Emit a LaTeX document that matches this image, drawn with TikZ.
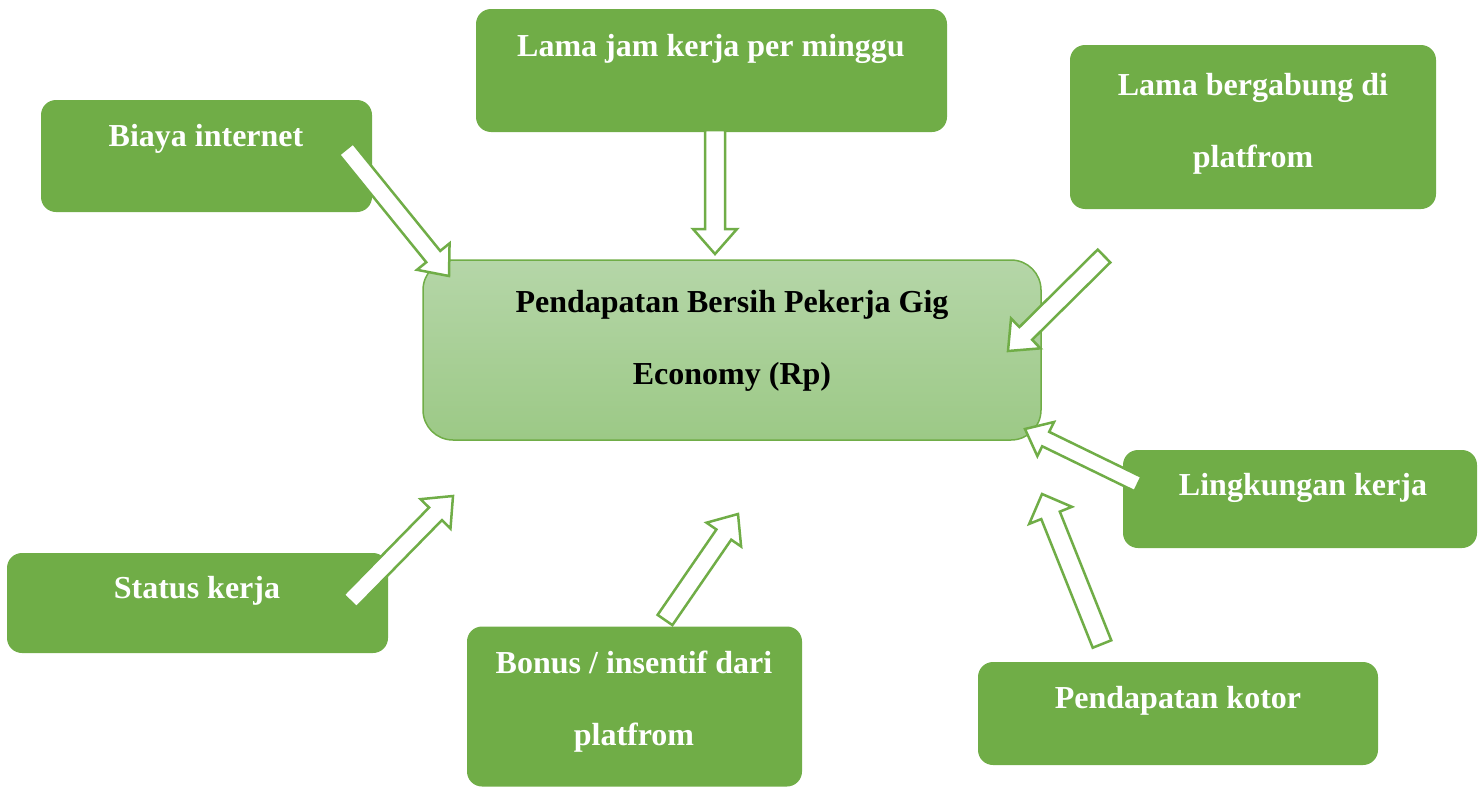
\documentclass[tikz,border=0pt]{standalone}
\usepackage{fontspec}
\setmainfont{Liberation Serif}
\usetikzlibrary{calc}
\definecolor{leaf}{HTML}{70AD47}
\definecolor{paletop}{HTML}{B5D6A8}
\definecolor{palebot}{HTML}{9CC986}

% hollow block arrow: #1 tail, #2 tip, #3 half shaft, #4 half head, #5 head length
\newcommand\blockarrow[5]{%
  \coordinate (ba-neck) at ($(#2)!#5!(#1)$);
  \draw[flowarrow] ($(#1)!#3!90:(#2)$) -- ($(ba-neck)!#3!90:(#2)$)
    -- ($(ba-neck)!#4!90:(#2)$) -- (#2) -- ($(ba-neck)!#4!-90:(#2)$)
    -- ($(ba-neck)!#3!-90:(#2)$) -- ($(#1)!#3!-90:(#2)$) -- cycle;}

\begin{document}
\begin{tikzpicture}[x=1pt,y=-1pt,
  outerbox/.style={fill=leaf, rounded corners=15pt, inner sep=0pt},
  corebox/.style={draw=leaf, line width=1.5pt, top color=paletop, bottom color=palebot,
    rounded corners=30pt, inner sep=0pt},
  flowarrow/.style={draw=leaf, line width=2.5pt, fill=white, line join=miter},
  wtext/.style={text=white, font=\fontsize{32}{72}\selectfont\bfseries, align=center, anchor=base, inner sep=0pt},
  btext/.style={wtext, text=black}]
\useasboundingbox (0,0) rectangle (1478,787);
\clip (0,0) rectangle (1478,787);

% boxes
\node[outerbox, minimum width=331pt, minimum height=112pt] (biaya) at (206.5,156) {};
\node[outerbox, minimum width=471pt, minimum height=123pt] (jam) at (711.5,70.5) {};
\node[outerbox, minimum width=366pt, minimum height=164pt] (gabung) at (1253,127) {};
\node[corebox, minimum width=618pt, minimum height=180pt] (core) at (732,350) {};
\node[outerbox, minimum width=354pt, minimum height=98pt] (lingkungan) at (1300,499) {};
\node[outerbox, minimum width=381pt, minimum height=100pt] (status) at (197.5,603) {};
\node[outerbox, minimum width=335pt, minimum height=160pt] (bonus) at (634.5,706.5) {};
\node[outerbox, minimum width=400pt, minimum height=103pt] (kotor) at (1178,713.5) {};

% arrow ends
\coordinate (a1s) at (346,149);  \coordinate (a1e) at (449,276);
\coordinate (a2s) at (715,130);  \coordinate (a2e) at (715,254);
\coordinate (a3s) at (1104,256); \coordinate (a3e) at (1008,351);
\coordinate (a4s) at (350,601);  \coordinate (a4e) at (453,496);
\coordinate (a5s) at (665,620);  \coordinate (a5e) at (738,514);
\coordinate (a6s) at (1138,484); \coordinate (a6e) at (1025,429);
\coordinate (a7s) at (1102,644); \coordinate (a7e) at (1042,494);

\blockarrow{a1s}{a1e}{9pt}{21pt}{25pt}
\blockarrow{a2s}{a2e}{10pt}{22pt}{25pt}
\blockarrow{a3s}{a3e}{9pt}{21pt}{25pt}
\blockarrow{a4s}{a4e}{9pt}{21pt}{25pt}
\blockarrow{a5s}{a5e}{9pt}{21pt}{25pt}
\blockarrow{a6s}{a6e}{8pt}{19pt}{23pt}
\blockarrow{a7s}{a7e}{10pt}{23pt}{23pt}

% labels (base anchor sits on the last line)
\node[wtext] at (206,146) {Biaya internet};
\node[wtext] at (711,56) {Lama jam kerja per minggu};
\node[wtext] at (1253,167) {Lama bergabung di\\platfrom};
\node[btext] at (732,384) {Pendapatan Bersih Pekerja Gig\\Economy (Rp)};
\node[wtext] at (1303,495) {Lingkungan kerja};
\node[wtext] at (197,598) {Status kerja};
\node[wtext] at (634,745) {Bonus / insentif dari\\platfrom};
\node[wtext] at (1178,708) {Pendapatan kotor};
\end{tikzpicture}
\end{document}
